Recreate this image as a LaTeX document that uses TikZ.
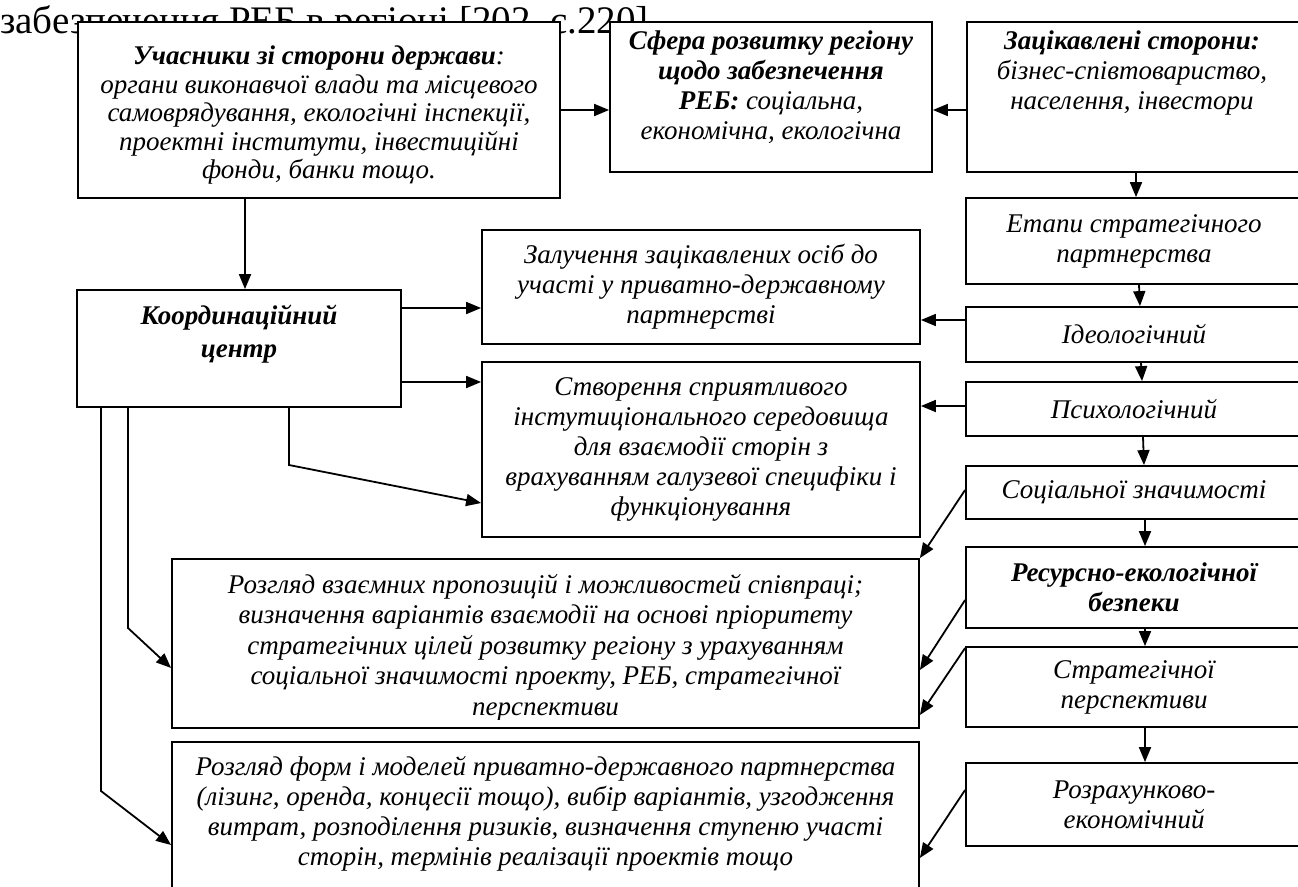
\documentclass[tikz,border=0pt]{standalone}
\usepackage{fontspec}
\setmainfont{Liberation Serif}
\usetikzlibrary{arrows.meta}

% italic body text of the boxes, with the leading given as argument
\newcommand\boxfont[1]{\fontsize{27}{#1}\selectfont\itshape}

\begin{document}
\begin{tikzpicture}[x=1pt,y=-1pt,
  box/.style={draw, line width=1.8pt, fill=white, inner sep=0pt},
  txt/.style={inner sep=0pt, align=center, font=\boxfont{30}},
  arr/.style={line width=1.8pt, -{Triangle[length=15pt,width=12pt]}}]
\useasboundingbox (0,0) rectangle (1298,886);

% caption line partly hidden behind the boxes
\node[anchor=base west, inner sep=0pt, font=\fontsize{39}{42}\selectfont] (hdr) at (0,33) {забезпечення РЕБ в регіоні [202, с.220]};

% top row
\node[box, minimum width=482pt, minimum height=176pt] (A) at (319,110) {};
\node[txt, anchor=north, font=\boxfont{28.5}] (At) at (319,46)
  {\textbf{Учасники зі сторони держави}:\\органи виконавчої влади та місцевого\\самоврядування, екологічні інспекції,\\проектні інститути, інвестиційні\\фонди, банки тощо.};
\node[box, minimum width=322pt, minimum height=150pt] (sfera) at (771,97) {};
\node[txt, anchor=north] (sferat) at (771,31)
  {\textbf{Сфера розвитку регіону}\\\textbf{щодо забезпечення}\\\textbf{РЕБ:} соціальна,\\економічна, екологічна};
\node[box, minimum width=336pt, minimum height=150pt] (zacik) at (1135,97) {};
\node[txt, anchor=north] (zacikt) at (1132,31)
  {\textbf{Зацікавлені сторони:}\\бізнес-співтовариство,\\населення, інвестори};

% stages of the partnership
\node[box, txt, minimum width=336pt, minimum height=86pt] (etapy) at (1134,241) {Етапи стратегічного\\партнерства};
\node[box, txt, minimum width=336pt, minimum height=55pt] (ideol) at (1134,334.5) {Ідеологічний};
\node[box, txt, minimum width=336pt, minimum height=54pt] (psych) at (1134,409) {Психологічний};
\node[box, txt, minimum width=336pt, minimum height=53pt] (soc) at (1134,492.5) {Соціальної значимості};
\node[box, txt, minimum width=336pt, minimum height=81pt] (resurs) at (1134,587.5) {\textbf{Ресурсно-екологічної}\\\textbf{безпеки}};
\node[box, txt, minimum width=336pt, minimum height=80pt] (strat) at (1134,687) {Стратегічної\\перспективи};
\node[box, txt, minimum width=336pt, minimum height=83pt] (rozrah) at (1134,804.5) {Розрахунково-\\економічний};

% coordination centre and its tasks
\node[box, minimum width=324pt, minimum height=117pt] (koord) at (239,348.5) {};
\node[txt, anchor=north, font=\boxfont{33}] (koordt) at (239,305) {\textbf{Координаційний}\\\textbf{центр}};
\node[box, txt, minimum width=438pt, minimum height=114pt] (zaluch) at (701,287)
  {Залучення зацікавлених осіб до\\участі у приватно-державному\\партнерстві};
\node[box, txt, minimum width=438pt, minimum height=175pt] (stvor) at (701,449.5)
  {Створення сприятливого\\інстутиціонального середовища\\для взаємодії сторін з\\врахуванням галузевої специфіки і\\функціонування};
\node[box, minimum width=747pt, minimum height=169pt] (box4) at (545.5,643.5) {};
\begin{scope}
  \clip (box4.north west) rectangle ([yshift=9pt]box4.south east);
  \node[txt, anchor=north, font=\boxfont{30.5}] (box4t) at (545.5,574)
    {Розгляд взаємних пропозицій і можливостей співпраці;\\визначення варіантів взаємодії на основі пріоритету\\стратегічних цілей розвитку регіону з урахуванням\\соціальної значимості проекту, РЕБ, стратегічної\\перспективи};
\end{scope}
\node[box, minimum width=747pt, minimum height=170pt] (box5) at (545.5,827) {};
\node[txt, anchor=north] (box5t) at (545.5,756)
  {Розгляд форм і моделей приватно-державного партнерства\\(лізинг, оренда, концесії тощо), вибір варіантів, узгодження\\витрат, розподілення ризиків, визначення ступеню участі\\сторін, термінів реалізації проектів тощо};

% connectors of the top row
\draw[arr] (A.east |- 0,110) -- (sfera.west |- 0,110);
\draw[arr] (zacik.west |- 0,110) -- (sfera.east |- 0,110);
\draw[arr] (A.south -| 245,0) -- (koord.north -| 245,0);

% chain of stages
\draw[arr] (zacik.south -| 1136,0) -- (etapy.north -| 1136,0);
\draw[arr] (etapy.south -| 1139,0) -- (ideol.north -| 1140,0);
\draw[arr] (ideol.south -| 1141,0) -- (psych.north -| 1142,0);
\draw[arr] (psych.south -| 1143,0) -- (soc.north -| 1144,0);
\draw[arr] (soc.south -| 1145,0) -- (resurs.north -| 1145,0);
\draw[arr] (resurs.south -| 1145,0) -- (strat.north -| 1145,0);
\draw[arr] (strat.south -| 1145,0) -- (rozrah.north -| 1145,0);

% coordination centre to its tasks
\draw[arr] (koord.east |- 0,308) -- (zaluch.west |- 0,308);
\draw[arr] (koord.east |- 0,382) -- (stvor.west |- 0,382);
\draw[arr] (koord.south -| 289,0) -- (289,465) -- (stvor.west |- 0,503);
\draw[arr] (koord.south -| 128,0) -- (128,628) -- (box4.west |- 0,668);
\draw[arr] (koord.south -| 101,0) -- (101,791) -- (box5.west |- 0,845);

% stages to the tasks
\draw[arr] (ideol.west |- 0,320) -- (zaluch.east |- 0,320);
\draw[arr] (psych.west |- 0,406) -- (stvor.east |- 0,406);
\draw[arr] (soc.west |- 0,490) -- (box4.north east);
\draw[arr] (resurs.west |- 0,600) -- (box4.east |- 0,670);
\draw[arr] (strat.west |- 0,648) -- (box4.east |- 0,715);
\draw[arr] (rozrah.west |- 0,790) -- (box5.east |- 0,858);
\end{tikzpicture}
\end{document}
